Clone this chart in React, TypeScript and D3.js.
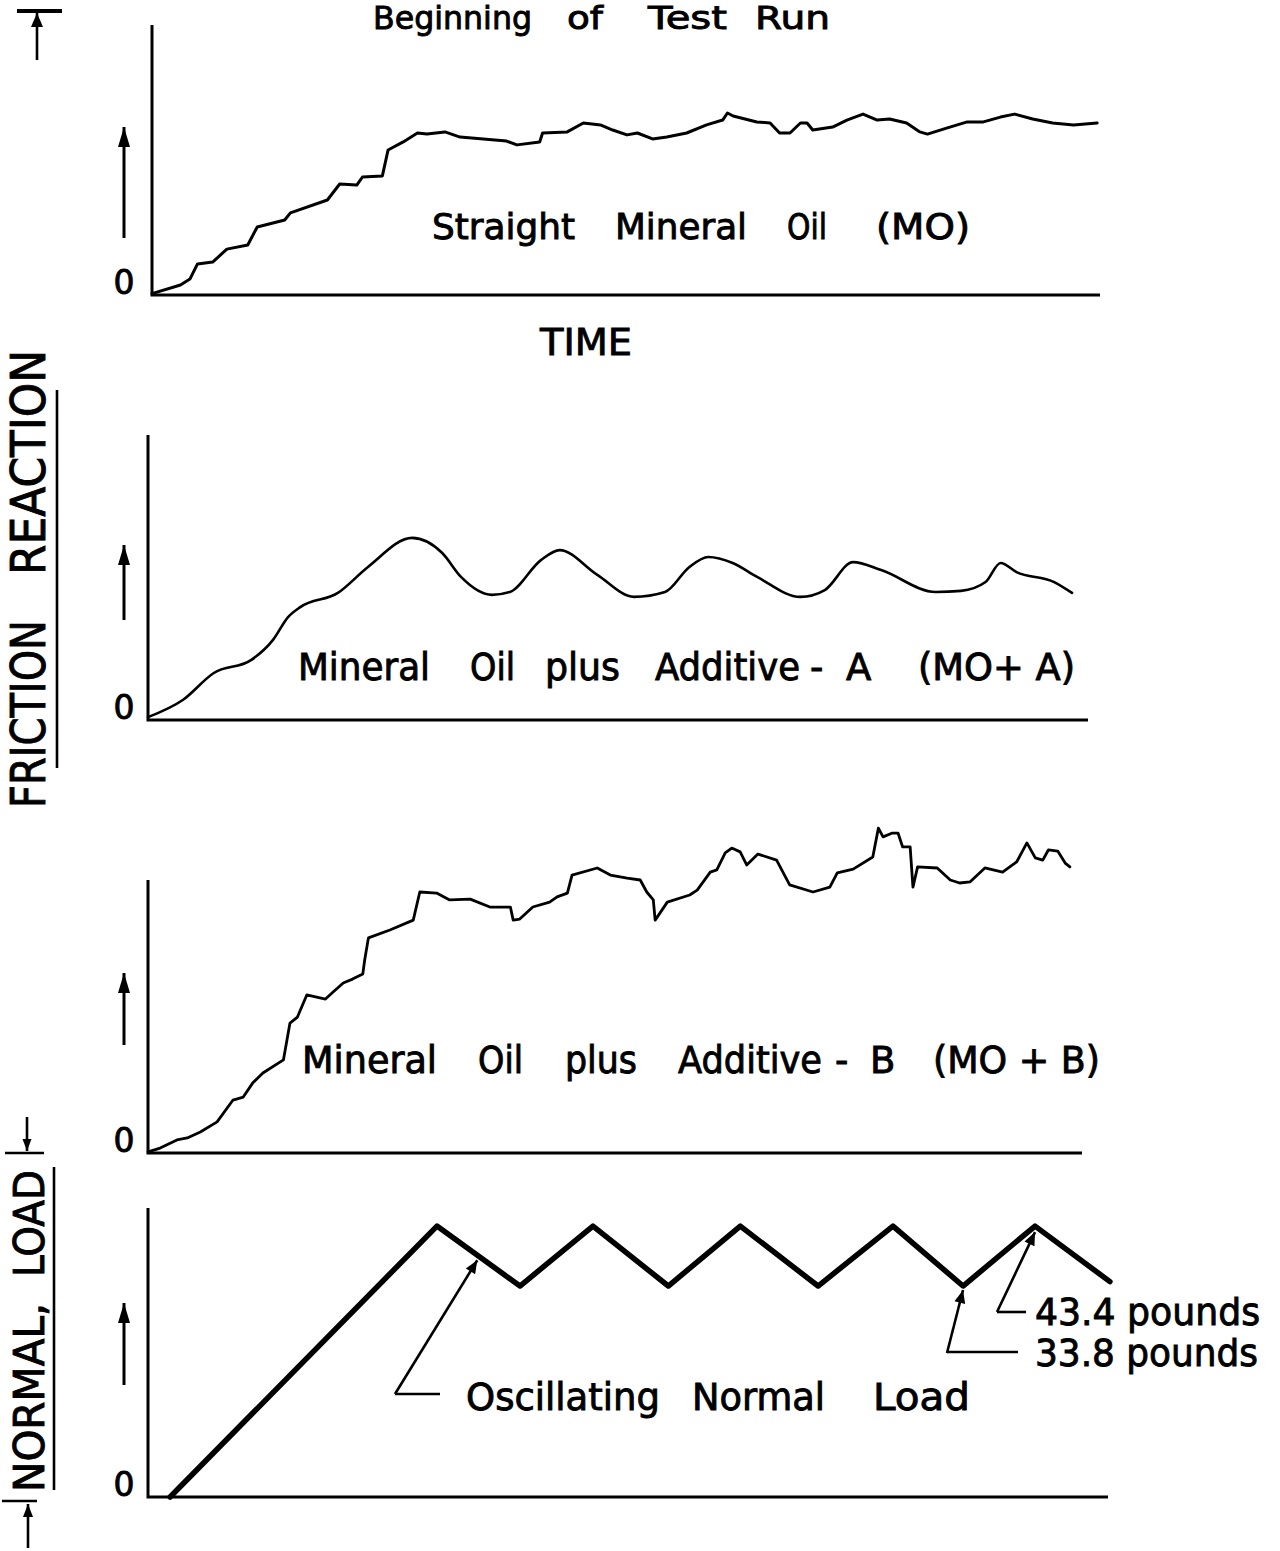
import { curveLinear, curveMonotoneX, line, scaleLinear, select } from 'd3'
import { useEffect, useRef } from 'react'

// time is 0..100 along each panel's x-axis, friction is 0..100 of the axis height
const moTime = [0, 3.0, 4.0, 4.8, 6.4, 7.9, 10.1, 11.1, 14.0, 14.6, 18.5, 19.8, 21.6, 22.2, 24.3, 24.9, 26.5, 28.0, 29.0, 30.9, 32.5, 37.4, 38.5, 40.9, 41.2, 43.8, 45.5, 47.3, 48.6, 50.1, 51.2, 52.8, 54.3, 56.4, 58.5, 60.2, 60.7, 61.3, 63.8, 65.2, 66.2, 67.3, 68.4, 69.1, 69.7, 71.8, 73.3, 75.0, 76.5, 77.8, 79.6, 81.0, 81.8, 83.9, 86.0, 87.7, 89.5, 91.0, 92.9, 95.0, 97.2, 99.7]
const moFriction = [0.5, 3.7, 5.9, 11.5, 12.2, 17.0, 18.5, 25.2, 27.8, 30.4, 35.2, 41.1, 40.7, 43.7, 44.1, 53.7, 56.7, 60.0, 59.6, 60.4, 58.5, 57.0, 55.6, 56.7, 60.0, 60.4, 63.7, 63.0, 61.1, 59.3, 60.0, 57.8, 58.5, 60.0, 63.0, 64.8, 67.4, 66.3, 64.1, 63.7, 60.0, 60.0, 63.7, 63.7, 61.1, 62.2, 64.8, 67.0, 64.8, 65.2, 63.7, 60.4, 59.6, 61.9, 64.1, 64.1, 65.9, 67.0, 65.2, 63.7, 63.0, 63.7]

const moaTime = [0, 3.7, 7.0, 11.0, 13.3, 14.9, 16.2, 20.2, 23.4, 28.1, 31.3, 33.3, 36.6, 38.5, 41.8, 43.8, 47.8, 51.7, 55.0, 57.6, 59.6, 62.2, 64.8, 69.4, 72.0, 75.0, 78.0, 83.8, 86.5, 89.1, 90.7, 92.4, 96.4, 98.3]
const moaFriction = [1, 7.0, 16.5, 21.1, 28.1, 36.1, 39.6, 44.6, 53.7, 63.9, 58.6, 50.2, 43.9, 44.9, 56.1, 59.6, 50.9, 43.2, 44.9, 53.7, 57.2, 55.1, 50.2, 43.2, 45.6, 55.4, 52.6, 44.9, 45.3, 48.4, 55.1, 51.9, 48.4, 44.6]

const mobTime = [0, 1.3, 3.1, 4.2, 5.6, 7.4, 9.1, 10.2, 11.2, 12.3, 14.5, 15.2, 16.0, 17.0, 19.0, 19.7, 20.9, 21.9, 23.0, 23.2, 23.6, 25.9, 28.4, 29.1, 30.9, 32.3, 34.5, 36.6, 38.8, 39.1, 39.8, 41.2, 43.0, 43.8, 44.9, 45.4, 48.1, 49.5, 51.3, 52.7, 53.4, 54.1, 54.3, 55.6, 58.0, 58.8, 60.2, 60.9, 61.8, 62.5, 63.4, 64.1, 65.3, 67.3, 68.7, 71.2, 73.0, 73.8, 75.5, 77.6, 78.2, 78.7, 79.7, 80.3, 80.8, 81.6, 81.9, 82.4, 84.5, 85.9, 86.9, 88.0, 89.6, 91.5, 93.0, 94.1, 95.0, 95.8, 96.4, 97.4, 98.2, 98.7]
const mobFriction = [0.4, 1.8, 4.8, 5.5, 7.7, 11.4, 19.4, 20.5, 25.6, 29.3, 34.1, 47.6, 49.8, 57.9, 56.4, 58.6, 62.3, 63.7, 65.6, 70.7, 78.8, 81.7, 85.3, 95.6, 95.2, 92.7, 93.0, 90.1, 90.1, 85.3, 85.7, 90.1, 91.9, 93.8, 95.2, 101.8, 104.4, 101.8, 100.7, 100.0, 95.6, 92.7, 85.3, 91.9, 94.5, 96.3, 102.9, 103.7, 109.9, 111.7, 110.3, 105.5, 109.5, 107.3, 98.2, 95.6, 97.4, 102.6, 104.0, 108.4, 119.0, 115.8, 117.2, 117.2, 112.1, 112.1, 97.4, 104.8, 104.4, 100.0, 98.9, 99.3, 104.4, 102.9, 106.6, 113.6, 108.1, 107.3, 111.0, 110.6, 106.2, 104.8]

const loadPeak = 43.4
const loadTrough = 33.8
const loadTime = [2.3, 30.1, 38.75, 46.35, 54.2, 61.7, 69.8, 77.6, 84.9, 92.4, 100.2]
const loadPounds = [0, loadPeak, loadTrough, loadPeak, loadTrough, loadPeak, loadTrough, loadPeak, loadTrough, loadPeak, 34.5]

const font = "'DejaVu Sans', sans-serif"

// [text, start x, end x]; end 0 = natural width
type Word = [string, number, number]

const panels = [
  {
    time: moTime, value: moFriction, yMax: 100, curve: curveLinear, lw: 3,
    left: 152, right: 1100, base: 295, top: 25, arrow: [238, 127],
    labelY: 239, labelSize: 36,
    words: [['Straight', 432, 575], ['Mineral', 615, 747], ['Oil', 787, 827], ['(MO)', 876, 970]] as Word[],
  },
  {
    time: moaTime, value: moaFriction, yMax: 100, curve: curveMonotoneX, lw: 2.6,
    left: 148, right: 1088, base: 720, top: 435, arrow: [620, 545],
    labelY: 680, labelSize: 37,
    words: [['Mineral', 298, 430], ['Oil', 470, 515], ['plus', 545, 620], ['Additive', 655, 800], ['-', 810, 0], ['A', 846, 0], ['(MO+ A)', 918, 1075]] as Word[],
  },
  {
    time: mobTime, value: mobFriction, yMax: 100, curve: curveLinear, lw: 2.8,
    left: 148, right: 1082, base: 1153, top: 880, arrow: [1045, 973],
    labelY: 1073, labelSize: 37,
    words: [['Mineral', 302, 437], ['Oil', 478, 523], ['plus', 565, 637], ['Additive', 678, 822], ['-', 835, 0], ['B', 870, 0], ['(MO + B)', 933, 1100]] as Word[],
  },
  {
    time: loadTime, value: loadPounds, yMax: 46.3, curve: curveLinear, lw: 5.5,
    left: 148, right: 1108, base: 1497, top: 1208, arrow: [1385, 1303],
    labelY: 1410, labelSize: 37,
    words: [['Oscillating', 466, 660], ['Normal', 692, 825], ['Load', 873, 970]] as Word[],
  },
]

const loadAt = (t: number) => {
  for (let i = 1; i < loadTime.length; i++) {
    if (t <= loadTime[i]) {
      const f = (t - loadTime[i - 1]) / (loadTime[i] - loadTime[i - 1])
      return loadPounds[i - 1] + f * (loadPounds[i] - loadPounds[i - 1])
    }
  }
  return loadPounds[loadPounds.length - 1]
}

export default function App() {
  const svgRef = useRef<SVGSVGElement | null>(null)

  useEffect(() => {
    if (!svgRef.current) return
    const svg = select(svgRef.current)
    svg.selectAll('*').remove()

    const arrow = (x1: number, y1: number, x2: number, y2: number, w = 2.6, head = 13, half = 5.5) => {
      svg.append('line')
        .attr('x1', x1).attr('y1', y1).attr('x2', x2).attr('y2', y2)
        .attr('stroke', '#000').attr('stroke-width', w)
      const a = Math.atan2(y2 - y1, x2 - x1)
      const bx = x2 - head * Math.cos(a)
      const by = y2 - head * Math.sin(a)
      const nx = -Math.sin(a) * half
      const ny = Math.cos(a) * half
      svg.append('path')
        .attr('d', `M${x2},${y2}L${bx + nx},${by + ny}L${bx - nx},${by - ny}Z`)
        .attr('fill', '#000')
    }

    const styleText = (t: any, size: number) =>
      t.attr('font-family', font).attr('font-size', size)
        .attr('fill', '#000').attr('stroke', '#000').attr('stroke-width', 0.9)

    const word = (w: Word, y: number, size: number) => {
      const t = svg.append('text').attr('x', w[1]).attr('y', y)
      styleText(t, size)
      if (w[2] > 0) t.attr('textLength', w[2] - w[1]).attr('lengthAdjust', 'spacingAndGlyphs')
      t.text(w[0])
    }

    const vword = (text: string, x: number, yStart: number, yEnd: number, size: number) => {
      const t = svg.append('text')
        .attr('transform', `translate(${x},${yStart}) rotate(-90)`)
        .attr('textLength', yStart - yEnd).attr('lengthAdjust', 'spacingAndGlyphs')
      styleText(t, size)
      t.text(text)
    }

    let loadX = scaleLinear()
    let loadY = scaleLinear()

    panels.forEach((p, ix) => {
      const x = scaleLinear().domain([0, 100]).range([p.left, p.right])
      const y = scaleLinear().domain([0, p.yMax]).range([p.base, p.top])
      if (ix === 3) { loadX = x; loadY = y }

      svg.append('path')
        .attr('d', `M${x(0)},${y(p.yMax)}V${y(0)}H${x(100)}`)
        .attr('fill', 'none').attr('stroke', '#000').attr('stroke-width', 3)

      const path = line<number>()
        .x((_, i) => x(p.time[i]))
        .y(d => y(d))
        .curve(p.curve)
      svg.append('path')
        .attr('d', path(p.value))
        .attr('fill', 'none').attr('stroke', '#000')
        .attr('stroke-width', p.lw).attr('stroke-linejoin', 'round').attr('stroke-linecap', 'round')

      const zero = svg.append('text')
        .attr('x', 124).attr('y', y(0) - 1)
        .attr('text-anchor', 'middle')
      styleText(zero, 33)
      zero.text('0')

      arrow(124, p.arrow[0], 124, p.arrow[1], 3, 20, 6)

      p.words.forEach(w => word(w, p.labelY, p.labelSize))
    })

    // title and time label
    ;([['Beginning', 373, 532], ['of', 567, 603], ['Test', 648, 727], ['Run', 755, 830]] as Word[])
      .forEach(w => word(w, 29, 32))
    word(['TIME', 540, 632], 355, 38)

    // load annotations
    const tOsc = 34.3
    const ox = loadX(tOsc)
    const oy = loadY(loadAt(tOsc)) + 5
    svg.append('path').attr('d', `M440,1394H395`).attr('stroke', '#000').attr('stroke-width', 2.6).attr('fill', 'none')
    arrow(395, 1394, ox, oy)

    const px = loadX(loadTime[9])
    const py = loadY(loadPeak) + 6
    svg.append('path').attr('d', `M1026,1312H997`).attr('stroke', '#000').attr('stroke-width', 2.6).attr('fill', 'none')
    arrow(997, 1312, px, py)

    const tx = loadX(loadTime[8])
    const ty = loadY(loadTrough) + 4
    svg.append('path').attr('d', `M1018,1352H947`).attr('stroke', '#000').attr('stroke-width', 2.6).attr('fill', 'none')
    arrow(947, 1353, tx, ty)

    word([`${loadPeak} pounds`, 1035, 1260], 1325, 38)
    word([`${loadTrough} pounds`, 1035, 1258], 1366, 38)

    // vertical axis titles with their rules
    vword('FRICTION', 45, 808, 620, 48)
    vword('REACTION', 45, 575, 350, 48)
    svg.append('line').attr('x1', 57).attr('y1', 390).attr('x2', 57).attr('y2', 768).attr('stroke', '#000').attr('stroke-width', 2.6)
    vword('NORMAL,', 44, 1492, 1303, 42)
    vword('LOAD', 44, 1277, 1170, 42)
    svg.append('line').attr('x1', 54).attr('y1', 1167).attr('x2', 54).attr('y2', 1490).attr('stroke', '#000').attr('stroke-width', 2.6)

    // extent markers
    svg.append('line').attr('x1', 17).attr('y1', 11).attr('x2', 62).attr('y2', 11).attr('stroke', '#000').attr('stroke-width', 4)
    arrow(37, 60, 37, 13, 2.6, 14, 6)
    svg.append('line').attr('x1', 5).attr('y1', 1153).attr('x2', 44).attr('y2', 1153).attr('stroke', '#000').attr('stroke-width', 2.6)
    arrow(27, 1117, 27, 1151, 2.6, 12, 4.5)
    svg.append('line').attr('x1', 2).attr('y1', 1501).attr('x2', 37).attr('y2', 1501).attr('stroke', '#000').attr('stroke-width', 2.6)
    arrow(28, 1548, 28, 1504, 2.6, 13, 5)
  }, [])

  return (
    <svg
      ref={svgRef}
      width={1280}
      height={1551}
      style={{ position: 'absolute', left: 0, top: 0, background: '#fff' }}
    />
  )
}
